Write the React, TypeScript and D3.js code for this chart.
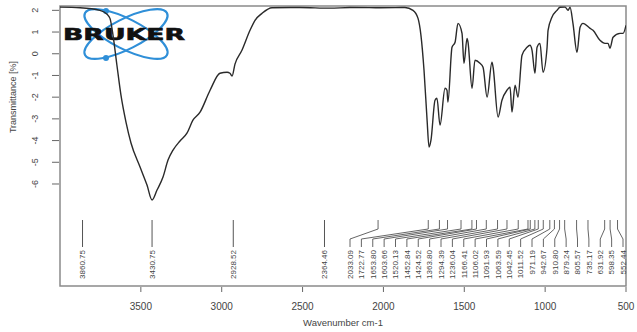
import { useMemo } from "react";
import * as d3 from "d3";

// spectrum points: wavenumber (cm-1) and transmittance
const wavenumbers = [
  4000, 3876, 3753, 3709, 3691, 3672, 3648, 3623, 3592, 3561, 3505, 3462, 3431, 3400, 3363, 3332,
  3301, 3258, 3215, 3178, 3134, 3072, 3011, 2967, 2949, 2936, 2918, 2875, 2825, 2794, 2751, 2689,
  2516, 2330, 2207, 2021, 1867, 1817, 1786, 1768, 1749, 1730, 1718, 1706, 1681, 1669, 1650, 1619,
  1607, 1601, 1576, 1557, 1539, 1514, 1502, 1483, 1477, 1452, 1434, 1403, 1384, 1359, 1329, 1322,
  1291, 1267, 1236, 1217, 1205, 1186, 1168, 1143, 1112, 1094, 1081, 1063, 1050, 1032, 1013, 988,
  982, 958, 927, 908, 877, 858, 846, 828, 803, 784, 766, 722, 704, 661, 630, 611, 599, 580, 537,
  518, 500,
];
const transmittance = [
  2.15, 2.12, 2.0, 1.82, 1.63, 0.85, -0.53, -1.91, -3.15, -4.11, -5.22, -6.05, -6.74, -6.28, -5.68,
  -4.9, -4.44, -4.02, -3.66, -3.06, -2.69, -1.68, -0.9, -0.85, -0.9, -1.03, -0.48, 0.16, 1.08, 1.54,
  1.86, 2.12, 2.13, 2.1, 2.13, 2.12, 2.13, 2.0, 1.63, 0.85, -0.76, -3.06, -4.3, -3.98, -2.14, -2.05,
  -3.29, -1.59, -1.68, -2.23, 0.3, 0.53, 1.4, 0.94, -0.44, 0.71, 0.53, -1.59, -0.3, -0.44, -0.62,
  -2.0, -0.39, -0.62, -2.92, -2.14, -1.68, -1.54, -2.69, -1.45, -2.0, -0.07, 0.3, 0.39, 0.16, -0.9,
  0.3, 0.48, -0.85, 0.3, 1.08, 1.68, 2.0, 2.14, 2.15, 2.0, 2.14, 1.4, 0.07, 1.22, 1.4, 1.17, 1.08,
  0.62, 0.48, 0.48, 0.25, 0.76, 0.94, 0.94, 1.31,
];

const xTicks = [3500, 3000, 2500, 2000, 1500, 1000, 500];
const yTicks = [2, 1, 0, -1, -2, -3, -4, -5, -6];

// peaks labelled straight under the line
const leftPeaks = ["3860.75", "3430.75", "2928.52", "2364.46"];
// peaks labelled in a row with leader lines
const rightPeaks = [
  "2033.09", "1722.77", "1653.80", "1603.66", "1520.13", "1452.84", "1424.52", "1363.80",
  "1294.39", "1236.04", "1166.41", "1106.02", "1091.93", "1063.59", "1042.45", "1011.52",
  "971.19", "942.67", "910.80", "879.24", "805.57", "735.17", "631.92", "598.35", "552.44",
];

const W = 637;
const H = 332;
const left = 60, right = 626, top = 6, bottom = 286;
const font = "'Liberation Sans', Arial, sans-serif";

export default function App() {
  const x = d3.scaleLinear().domain([4000, 500]).range([left, right]);
  const y = d3.scaleLinear().domain([-10.7, 2.2]).range([bottom, top]);

  const path = useMemo(() => {
    const pts = wavenumbers.map((w, i) => [w, transmittance[i]] as [number, number]);
    return d3
      .line<[number, number]>()
      .x((d) => x(d[0]))
      .y((d) => y(d[1]))
      .curve(d3.curveMonotoneX)(pts);
  }, []);

  const labelX = d3
    .scalePoint<string>()
    .domain(rightPeaks)
    .range([350, 623]);

  return (
    <svg width={W} height={H} style={{ position: "absolute", left: 0, top: 0, background: "#fff" }}>
      <defs>
        <clipPath id="plot">
          <rect x={left} y={top} width={right - left} height={bottom - top} />
        </clipPath>
      </defs>

      {/* frame */}
      <rect x={left} y={top} width={right - left} height={bottom - top} fill="none" stroke="#8a8a8a" strokeWidth={1.5} />

      {/* logo */}
      <g>
        <g fill="none" stroke="#2f8fd8" strokeWidth={2.2}>
          <ellipse cx={126} cy={34} rx={46} ry={15} transform="rotate(27,126,34)" />
          <ellipse cx={126} cy={34} rx={46} ry={15} transform="rotate(-27,126,34)" />
        </g>
        <circle cx={106} cy={11} r={3} fill="#2f8fd8" />
        <circle cx={106} cy={58} r={3} fill="#2f8fd8" />
        <text x={63} y={40} fontFamily="'DejaVu Sans', sans-serif" fontWeight={900} fontSize={16}
          textLength={122} lengthAdjust="spacingAndGlyphs" fill="#111" stroke="#111" strokeWidth={0.6}>BRUKER</text>
      </g>

      {/* spectrum */}
      <path d={path ?? ""} fill="none" stroke="#2a2a2a" strokeWidth={1.4} clipPath="url(#plot)" />

      {/* y axis */}
      {yTicks.map((t) => (
        <g key={t}>
          <line x1={52} x2={59} y1={y(t)} y2={y(t)} stroke="#666" />
          <text transform={`translate(38,${y(t)}) rotate(-90)`} textAnchor="middle" fontFamily={font}
            fontSize={9} fill="#444">{t}</text>
        </g>
      ))}
      <text transform={`translate(16,97) rotate(-90)`} textAnchor="middle" fontFamily={font} fontSize={9} fill="#444">
        Transmittance [%]
      </text>

      {/* x axis */}
      {xTicks.map((t) => (
        <g key={t}>
          <line x1={x(t)} x2={x(t)} y1={bottom + 1} y2={bottom + 6} stroke="#666" />
          <text x={x(t)} y={310} textAnchor="middle" fontFamily={font} fontSize={10} fill="#444">{t}</text>
        </g>
      ))}
      <text x={343} y={326} textAnchor="middle" fontFamily={font} fontSize={9.5} fill="#444">
        Wavenumber cm-1
      </text>

      {/* peak labels */}
      {leftPeaks.map((p) => {
        const px = x(+p);
        return (
          <g key={p}>
            <line x1={px} x2={px} y1={220} y2={247} stroke="#555" />
            <text transform={`translate(${px + 2.8},250) rotate(-90)`} textAnchor="end" fontFamily={font}
              fontSize={8} fill="#444">{p}</text>
          </g>
        );
      })}
      {rightPeaks.map((p) => {
        const px = x(+p);
        const lx = labelX(p) ?? 0;
        return (
          <g key={p}>
            <polyline points={`${px},220 ${px},229 ${lx},239 ${lx},247`} fill="none" stroke="#555" strokeWidth={0.9} />
            <text transform={`translate(${lx + 2.8},250) rotate(-90)`} textAnchor="end" fontFamily={font}
              fontSize={8} fill="#444">{p}</text>
          </g>
        );
      })}
    </svg>
  );
}
